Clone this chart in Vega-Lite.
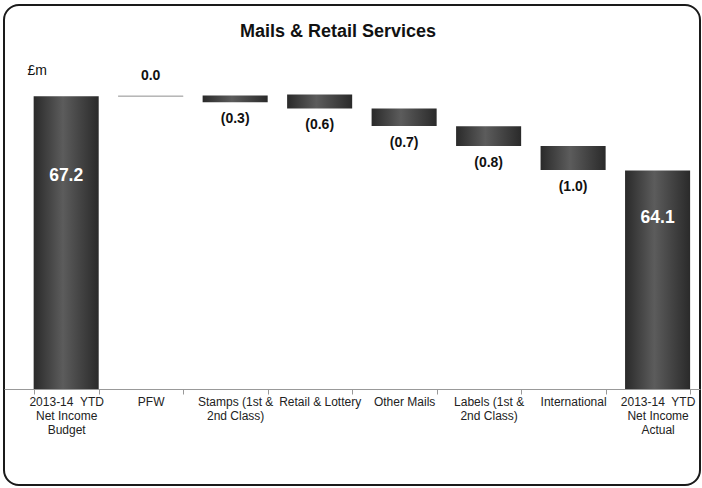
{
  "$schema": "https://vega.github.io/schema/vega-lite/v6.json",
  "autosize": "none",
  "padding": {"left": 4, "top": 5, "right": 2, "bottom": 3},
  "width": 696,
  "height": 480,
  "background": "white",
  "config": {
    "font": "Liberation Sans",
    "view": {"stroke": "#1a1a1a", "strokeWidth": 2, "cornerRadius": 15}
  },
  "title": {
    "text": "Mails & Retail Services",
    "font": "Liberation Sans",
    "fontSize": 18,
    "fontWeight": "bold",
    "color": "#111",
    "anchor": "middle",
    "offset": -36,
    "dx": -14
  },
  "data": {
    "values": [
      {"cat": "2013-14\u00a0 YTD\nNet Income\nBudget", "start": 55, "end": 67.2, "label": "67.2", "kind": "budget"},
      {"cat": "PFW", "start": 67.2, "end": 67.2, "label": "0.0", "kind": "zero"},
      {"cat": "Stamps (1st &\n2nd Class)", "start": 67.23, "end": 66.95, "label": "(0.3)", "kind": "delta"},
      {"cat": "Retail & Lottery", "start": 67.27, "end": 66.69, "label": "(0.6)", "kind": "delta"},
      {"cat": "Other Mails", "start": 66.69, "end": 65.96, "label": "(0.7)", "kind": "delta"},
      {"cat": "Labels (1st &\n2nd Class)", "start": 65.95, "end": 65.12, "label": "(0.8)", "kind": "delta"},
      {"cat": "International", "start": 65.12, "end": 64.12, "label": "(1.0)", "kind": "delta"},
      {"cat": "2013-14\u00a0 YTD\nNet Income\nActual", "start": 55, "end": 64.1, "label": "64.1", "kind": "actual"}
    ]
  },
  "encoding": {
    "x": {
      "field": "cat",
      "type": "nominal",
      "sort": null,
      "scale": {"paddingInner": 0.23, "paddingOuter": 0.234, "align": 0.75},
      "axis": {
        "title": null,
        "labelAngle": 0,
        "labelExpr": "split(datum.label, '\\n')",
        "labelFont": "Liberation Sans",
        "labelFontSize": 12,
        "labelColor": "#222",
        "labelLineHeight": 14,
        "labelPadding": 2,
        "labelLimit": 0,
        "tickBand": "extent",
        "tickSize": 5,
        "tickColor": "#999",
        "domainColor": "#999",
        "offset": -96,
        "orient": "bottom"
      }
    }
  },
  "layer": [
    {
      "mark": {
        "type": "bar",
        "fill": {
          "gradient": "linear",
          "x1": 0, "x2": 1, "y1": 0, "y2": 0,
          "stops": [
            {"offset": 0, "color": "#2a2a2a"},
            {"offset": 0.45, "color": "#5c5c5c"},
            {"offset": 1, "color": "#2a2a2a"}
          ]
        }
      },
      "encoding": {
        "y": {
          "field": "end",
          "type": "quantitative",
          "scale": {"domain": [51, 71], "zero": false, "nice": false},
          "axis": {
            "title": "£m",
            "titleAngle": 0,
            "titleAlign": "left",
            "titleBaseline": "middle",
            "titleX": 23,
            "titleY": 65,
            "titleFont": "Liberation Sans",
            "titleFontSize": 14,
            "titleFontWeight": "normal",
            "titleColor": "#111",
            "labels": false,
            "ticks": false,
            "domain": false,
            "grid": false
          }
        },
        "y2": {"field": "start"},
        "stroke": {"condition": {"test": "datum.kind === 'zero'", "value": "#b0b0b0"}, "value": "transparent"},
        "strokeWidth": {"value": 1}
      }
    },
    {
      "transform": [{"filter": "datum.kind === 'delta'"}],
      "mark": {"type": "text", "baseline": "top", "dy": 10, "fontSize": 14, "fontWeight": "bold", "color": "#111"},
      "encoding": {"y": {"field": "end", "type": "quantitative"}, "text": {"field": "label"}}
    },
    {
      "transform": [{"filter": "datum.kind === 'zero'"}],
      "mark": {"type": "text", "baseline": "bottom", "dy": -13, "fontSize": 14, "fontWeight": "bold", "color": "#111"},
      "encoding": {"y": {"field": "end", "type": "quantitative"}, "text": {"field": "label"}}
    },
    {
      "transform": [{"filter": "datum.kind === 'budget'"}],
      "mark": {"type": "text", "baseline": "middle", "dy": 80, "fontSize": 17.5, "fontWeight": "bold", "color": "white"},
      "encoding": {"y": {"field": "end", "type": "quantitative"}, "text": {"field": "label"}}
    },
    {
      "transform": [{"filter": "datum.kind === 'actual'"}],
      "mark": {"type": "text", "baseline": "middle", "dy": 47, "fontSize": 17.5, "fontWeight": "bold", "color": "white"},
      "encoding": {"y": {"field": "end", "type": "quantitative"}, "text": {"field": "label"}}
    }
  ]
}
